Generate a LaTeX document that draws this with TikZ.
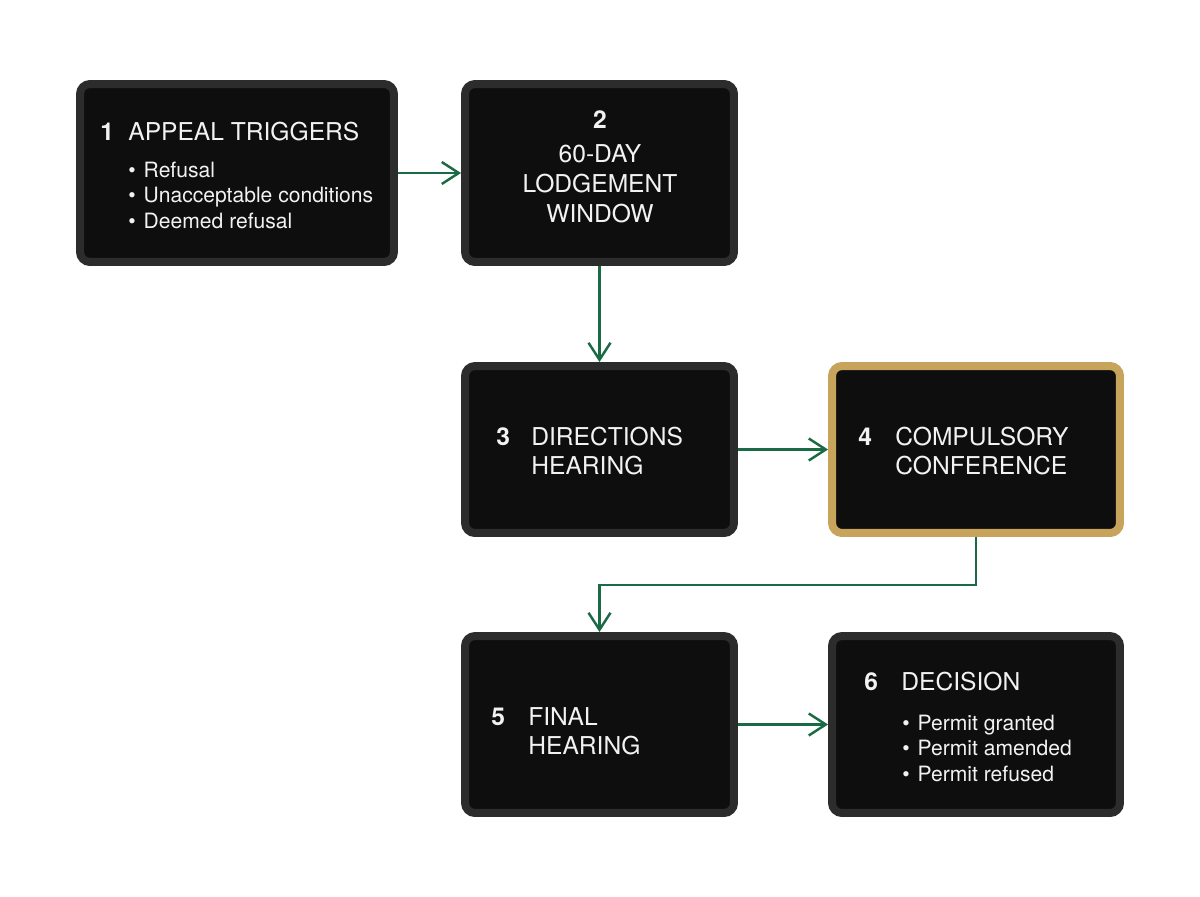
\documentclass[tikz,border=0pt]{standalone}
\usepackage{fontspec}
\setmainfont{TeX Gyre Heros}
\usetikzlibrary{arrows.meta}
\definecolor{boxfill}{HTML}{0E0E0E}
\definecolor{boxline}{HTML}{2C2C2C}
\definecolor{gold}{HTML}{C8A35B}
\definecolor{flowgreen}{HTML}{1A6B45}
\definecolor{lettering}{HTML}{F2F2F2}
\newcommand{\nr}[2][0.74cm]{\makebox[#1][l]{\bfseries #2}}
\newcommand{\itm}{\textbullet\hspace{0.16cm}}
\begin{document}
\begin{tikzpicture}[x=0.02cm, y=-0.02cm,
  stage/.style={draw=boxline, line width=0.16cm, fill=boxfill, rounded corners=0.2cm, inner sep=0pt},
  txt/.style={text=lettering, inner sep=0pt, font=\fontsize{14}{17}\selectfont},
  bullets/.style={text=lettering, inner sep=0pt, font=\fontsize{12}{14.74}\selectfont},
  flow/.style={draw=flowgreen, line width=1.4pt, -{Straight Barb[length=0.34cm,width=0.44cm]}}]
  \useasboundingbox[fill=white] (0,0) rectangle (1200,896);
  % the six stages
  \node[stage, minimum width=6.28cm, minimum height=3.56cm] (b1) at (237,173) {};
  \node[stage, minimum width=5.38cm, minimum height=3.56cm] (b2) at (599.5,173) {};
  \node[stage, minimum width=5.38cm, minimum height=3.34cm] (b3) at (599.5,449.5) {};
  \node[stage, draw=gold, minimum width=5.76cm, minimum height=3.34cm] (b4) at (976,449.5) {};
  \node[stage, minimum width=5.38cm, minimum height=3.54cm] (b5) at (599.5,724.5) {};
  \node[stage, minimum width=5.76cm, minimum height=3.54cm] (b6) at (976,724.5) {};
  % connectors
  \draw[flow] (b1.east) -- (b2.west);
  \draw[flow] (b2.south) -- (b3.north);
  \draw[flow] (b3.east) -- (b4.west);
  \draw[flow] (b4.south) -- ++(0,48) -| (b5.north);
  \draw[flow] (b5.east) -- (b6.west);
  % texts
  \node[txt, anchor=base west] (t1) at (100,140) {\nr[0.56cm]{1}APPEAL TRIGGERS};
  \node[bullets, anchor=base west] (l1) at (128,177) {\begin{tabular}[t]{@{}l@{}}\itm Refusal\\ \itm Unacceptable conditions\\ \itm Deemed refusal\end{tabular}};
  \node[txt, anchor=base] (t2) at (600,128) {\begin{tabular}[t]{@{}c@{}}\bfseries 2\\[2.8pt] 60-DAY\\ LODGEMENT\\ WINDOW\end{tabular}};
  \node[txt, anchor=base west] (t3) at (496,445) {\begin{tabular}[t]{@{}l@{}l@{}}\nr[0.70cm]{3}& DIRECTIONS\\ & HEARING\end{tabular}};
  \node[txt, anchor=base west] (t4) at (858,445) {\begin{tabular}[t]{@{}l@{}l@{}}\nr{4}& COMPULSORY\\ & CONFERENCE\end{tabular}};
  \node[txt, anchor=base west] (t5) at (491,725) {\begin{tabular}[t]{@{}l@{}l@{}}\nr{5}& FINAL\\ & HEARING\end{tabular}};
  \node[txt, anchor=base west] (t6) at (864,690) {\nr{6}DECISION};
  \node[bullets, anchor=base west] (l6) at (902,730) {\begin{tabular}[t]{@{}l@{}}\itm Permit granted\\ \itm Permit amended\\ \itm Permit refused\end{tabular}};
\end{tikzpicture}
\end{document}
